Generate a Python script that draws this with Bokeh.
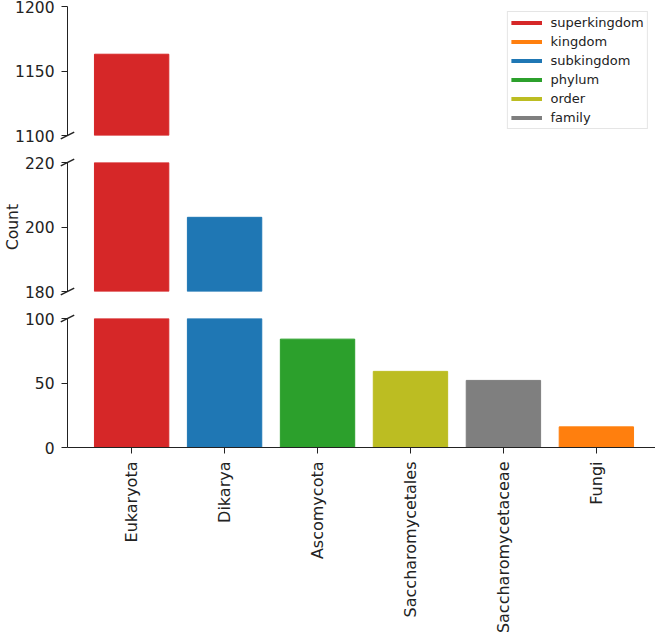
from bokeh.plotting import figure
from bokeh.models import (Range1d, FixedTicker, Legend, LegendItem, ColumnDataSource,
                          CDSView, BooleanFilter)
from bokeh.layouts import column
from bokeh.embed import file_html
from bokeh.resources import INLINE

taxa = ["Eukaryota", "Dikarya", "Ascomycota", "Saccharomycetales", "Saccharomycetaceae", "Fungi"]
ranks = ["superkingdom", "subkingdom", "phylum", "order", "family", "kingdom"]
counts = [1163, 203, 84, 59, 52, 16]

rank_order = ["superkingdom", "kingdom", "subkingdom", "phylum", "order", "family"]
rank_colors = {"superkingdom": "#d62728", "kingdom": "#ff7f0e", "subkingdom": "#1f77b4",
               "phylum": "#2ca02c", "order": "#bcbd22", "family": "#7f7f7f"}

top_ticks = [1100, 1150, 1200]
mid_ticks = [180, 200, 220]
bot_ticks = [0, 50, 100]

FONT = "DejaVu Sans"
YTICK_FS = "15.5px"
XTICK_FS = "16px"
XMIN, XMAX = -0.69, 5.69
FW = 593
LB = 62
FH = 129

src = ColumnDataSource(dict(x=list(range(len(taxa))), top=counts,
                            color=[rank_colors[r] for r in ranks]))


def make_fig(yr, ticks, fr_top, fr_bot, brk_ys):
    p = figure(frame_width=FW, frame_height=FH, output_backend="svg", toolbar_location=None,
               x_range=Range1d(XMIN, XMAX), y_range=Range1d(*yr),
               min_border_left=LB, min_border_right=0,
               min_border_top=fr_top, min_border_bottom=fr_bot)
    p.outline_line_color = None
    p.grid.visible = False
    p.xaxis.visible = False
    view = CDSView(filter=BooleanFilter([c > yr[0] for c in counts]))
    p.vbar(x="x", top="top", bottom=yr[0], width=0.8, color="color", source=src, view=view)
    ax = p.yaxis[0]
    ax.ticker = FixedTicker(ticks=ticks)
    ax.minor_tick_line_color = None
    ax.major_tick_out = 6
    ax.major_tick_in = 0
    ax.major_label_standoff = 7
    ax.major_label_text_font = FONT
    ax.major_label_text_font_size = YTICK_FS
    ax.major_label_text_color = "#222222"
    ax.axis_line_color = "#222222"
    ax.major_tick_line_color = "#222222"
    for yv in brk_ys:
        r = p.scatter(x=[XMIN], y=[yv], marker="dash", size=15, angle=0.46,
                      line_color="#222222", line_width=1.5)
        r.level = "overlay"
    return p


p1 = make_fig((1100, 1200), top_ticks, 6, 13, [1100])
p2 = make_fig((180, 220), mid_ticks, 14, 13, [180, 220])
p3 = make_fig((0, 100), bot_ticks, 14, 10, [100])

p2.yaxis[0].axis_label = "Count"
p2.yaxis[0].axis_label_text_font = FONT
p2.yaxis[0].axis_label_text_font_size = YTICK_FS
p2.yaxis[0].axis_label_text_font_style = "normal"
p2.yaxis[0].axis_label_text_color = "#222222"
p2.yaxis[0].axis_label_standoff = 0

# bottom x axis
xa = p3.xaxis[0]
xa.visible = True
xa.ticker = FixedTicker(ticks=list(range(len(taxa))))
xa.major_label_overrides = {i: t for i, t in enumerate(taxa)}
xa.major_label_orientation = 1.5708
xa.minor_tick_line_color = None
xa.major_tick_out = 6
xa.major_tick_in = 0
xa.major_label_standoff = 8
xa.major_label_text_font = FONT
xa.major_label_text_font_size = XTICK_FS
xa.major_label_text_color = "#222222"
xa.axis_line_color = "#222222"
xa.major_tick_line_color = "#222222"

# legend with line entries
items = []
for rk in rank_order:
    r = p1.line(x=[XMIN], y=[float("nan")], line_color=rank_colors[rk], line_width=4)
    items.append(LegendItem(label=rk, renderers=[r]))
leg = Legend(items=items, location="top_right")
leg.label_text_font = FONT
leg.label_text_font_size = "13px"
leg.label_text_color = "#222222"
leg.glyph_width = 31
leg.glyph_height = 13
leg.label_height = 13
leg.spacing = 4
leg.padding = 3
leg.margin = 5
leg.label_standoff = 9
leg.border_line_color = "#cccccc"
leg.background_fill_alpha = 0.9
p1.add_layout(leg)

layout = column(p1, p2, p3, spacing=0)
open("out.html", "w").write(file_html(layout, INLINE))
